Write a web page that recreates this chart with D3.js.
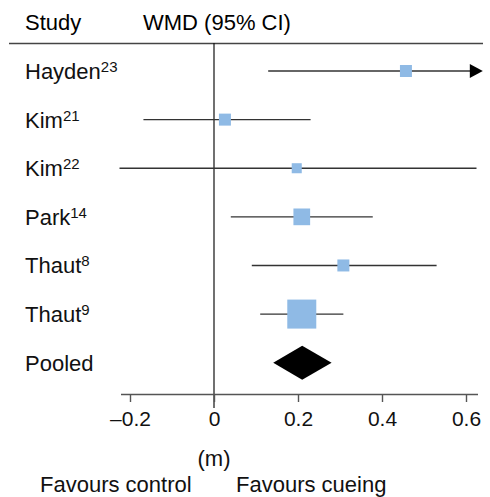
<!DOCTYPE html>
<html><head><meta charset="utf-8">
<script src="https://cdn.jsdelivr.net/npm/d3@7"></script>
<style>html,body{margin:0;padding:0;background:#fff;}svg{display:block;font-family:"Liberation Sans",Arial,sans-serif;}</style>
</head><body>
<svg id="c" width="490" height="497"></svg>
<script>
const studies = ["Hayden", "Kim", "Kim", "Park", "Thaut", "Thaut"];
const refs = ["23", "21", "22", "14", "8", "9"];
const wmd = [0.457, 0.026, 0.197, 0.209, 0.308, 0.209];
const lower = [0.129, -0.168, -0.225, 0.040, 0.090, 0.110];
const upper = [0.80, 0.230, 0.625, 0.378, 0.530, 0.308];
const weights = [8.7, 8.7, 6.1, 16.9, 8.7, 50.9];
const pooled = {est: 0.210, lo: 0.141, hi: 0.280};
const ticks = [-0.2, 0, 0.2, 0.4, 0.6];

const svg = d3.select("#c");
const x = d3.scaleLinear().domain([-0.2, 0.6]).range([130, 466]);
const rows = [...studies.map((s,i)=>i), "pooled"];
const y = d3.scalePoint().domain(d3.range(7)).range([71, 362.7]);
const size = d3.scaleSqrt().domain([0, 50.9]).range([0, 29]);
const clipMax = 0.64;

// header
svg.append("text").attr("x", 25).attr("y", 30).attr("font-size", 22).text("Study");
svg.append("text").attr("x", 143).attr("y", 30).attr("font-size", 22).text("WMD (95% CI)");
svg.append("line").attr("x1", 9).attr("x2", 483).attr("y1", 43.5).attr("y2", 43.5)
  .attr("stroke", "#444").attr("stroke-width", 1.6);

// zero line
svg.append("line").attr("x1", x(0)).attr("x2", x(0)).attr("y1", 43).attr("y2", 408)
  .attr("stroke", "#111").attr("stroke-width", 1.2);

// axis
const axisY = 394;
const ax = svg.append("g").attr("transform", `translate(0,${axisY})`)
  .call(d3.axisBottom(x).tickValues(ticks).tickSize(8).tickPadding(9)
    .tickFormat(d => d === 0 ? "0" : (d < 0 ? "\u2013" + Math.abs(d) : String(d))));
ax.select(".domain").remove();
ax.insert("line", ":first-child").attr("x1", 121).attr("x2", 478).attr("y1", 0.5).attr("y2", 0.5)
  .attr("stroke", "#555").attr("stroke-width", 1.6);
ax.selectAll(".tick line").attr("stroke", "#555").attr("stroke-width", 1.4);
ax.selectAll(".tick text").attr("font-size", 21).attr("fill", "#111")
  .attr("font-family", '"Liberation Sans",Arial,sans-serif');

// labels
studies.forEach((s, i) => {
  const t = svg.append("text").attr("x", 25).attr("y", y(i) + 8).attr("font-size", 22).attr("fill", "#111");
  t.append("tspan").text(s);
  t.append("tspan").attr("font-size", 15).attr("dy", -7).text(refs[i]);
});
svg.append("text").attr("x", 25).attr("y", y(6) + 8).attr("font-size", 22).attr("fill", "#111").text("Pooled");

// CI lines and squares
studies.forEach((s, i) => {
  const hi = Math.min(upper[i], clipMax);
  const arrow = upper[i] > clipMax;
  const xEnd = arrow ? x(clipMax) - 12 : x(hi);
  svg.append("line").attr("x1", x(lower[i])).attr("x2", xEnd).attr("y1", y(i)).attr("y2", y(i))
    .attr("stroke", "#333").attr("stroke-width", 1.4);
  if (arrow) {
    const tx = x(clipMax);
    svg.append("path").attr("d", `M${tx - 13},${y(i) - 7}L${tx},${y(i)}L${tx - 13},${y(i) + 7}Z`).attr("fill", "#000");
  }
  const sd = size(weights[i]);
  svg.append("rect").attr("x", x(wmd[i]) - sd / 2).attr("y", y(i) - sd / 2)
    .attr("width", sd).attr("height", sd).attr("fill", "#8fbae5");
});

// pooled diamond
const py = y(6);
svg.append("path")
  .attr("d", `M${x(pooled.lo)},${py}L${x(pooled.est)},${py - 17}L${x(pooled.hi)},${py}L${x(pooled.est)},${py + 17}Z`)
  .attr("fill", "#000");

// bottom labels
svg.append("text").attr("x", x(0)).attr("y", 466).attr("text-anchor", "middle").attr("font-size", 22).attr("fill", "#111").text("(m)");
svg.append("text").attr("x", 40).attr("y", 492).attr("font-size", 22).attr("fill", "#111").text("Favours control");
svg.append("text").attr("x", 236).attr("y", 492).attr("font-size", 22).attr("fill", "#111").text("Favours cueing");
</script>
</body></html>
